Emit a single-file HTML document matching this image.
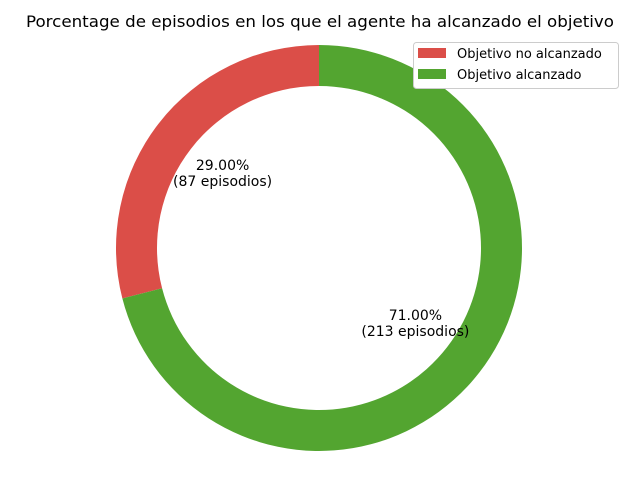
<!DOCTYPE html>
<html><head><meta charset="utf-8"><style>
body{margin:0;background:#fff;font-family:"Liberation Sans","DejaVu Sans",sans-serif;}
</style></head><body>
<svg id="chart" width="640" height="480" xmlns="http://www.w3.org/2000/svg">
<rect width="640" height="480" fill="#fff"/>
<text x="320" y="27" text-anchor="middle" font-size="16" textLength="588" lengthAdjust="spacingAndGlyphs" font-family="DejaVu Sans, sans-serif">Porcentage de episodios en los que el agente ha alcanzado el objetivo</text>
<g id="slices"></g>
<g id="labels" font-family="DejaVu Sans, sans-serif" font-size="14" text-anchor="middle"></g>
<g>
<rect x="413.5" y="42.5" width="205" height="46" rx="3" fill="#fff" stroke="#ccc"/>
<rect x="418" y="48" width="28" height="10" fill="#db4e48"/>
<text x="457" y="58" font-size="13" font-family="DejaVu Sans, sans-serif">Objetivo no alcanzado</text>
<rect x="418" y="69" width="28" height="10" fill="#53a530"/>
<text x="457" y="79" font-size="13" font-family="DejaVu Sans, sans-serif">Objetivo alcanzado</text>
</g>
</svg>
<script>
const categories = ["Objetivo no alcanzado", "Objetivo alcanzado"];
const counts = [87, 213];
const colors = ["#db4e48", "#53a530"];
const cx = 319, cy = 248, R = 203, r = 162, labelR = 122;
const NS = "http://www.w3.org/2000/svg";
const total = counts.reduce((a,b)=>a+b,0);
const slices = document.getElementById("slices");
const labels = document.getElementById("labels");
function pt(rad, deg){const a=deg*Math.PI/180;return [cx+rad*Math.cos(a), cy-rad*Math.sin(a)];}
let start = 90;
counts.forEach((v,i)=>{
  const sweep = v/total*360, end = start+sweep, large = sweep>180?1:0;
  const [x1,y1]=pt(R,start),[x2,y2]=pt(R,end),[x3,y3]=pt(r,end),[x4,y4]=pt(r,start);
  const p=document.createElementNS(NS,"path");
  p.setAttribute("d",`M${x1},${y1} A${R},${R} 0 ${large} 0 ${x2},${y2} L${x3},${y3} A${r},${r} 0 ${large} 1 ${x4},${y4} Z`);
  p.setAttribute("fill",colors[i]);
  
  
  slices.appendChild(p);
  const [lx,ly]=pt(labelR,start+sweep/2);
  const t=document.createElementNS(NS,"text");
  t.setAttribute("x",lx);t.setAttribute("y",ly-3);
  
  
  const a=document.createElementNS(NS,"tspan");a.setAttribute("x",lx);a.textContent=(v/total*100).toFixed(2)+"%";
  const b=document.createElementNS(NS,"tspan");b.setAttribute("x",lx);b.setAttribute("dy","16");b.textContent="("+v+" episodios)";
  t.appendChild(a);t.appendChild(b);labels.appendChild(t);
  start=end;
});
</script>
</body></html>
